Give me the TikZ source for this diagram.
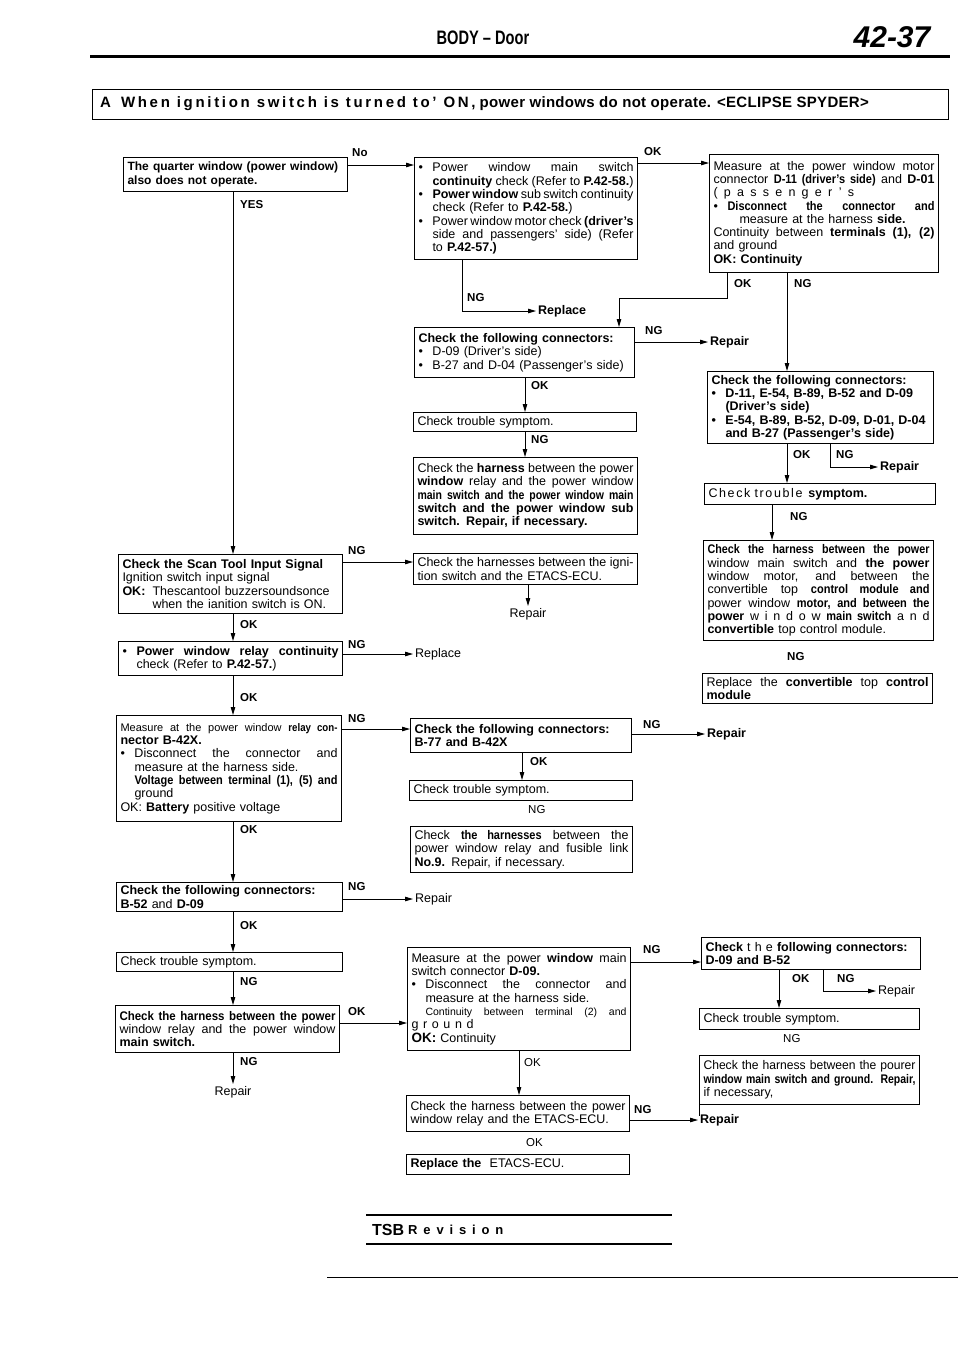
\documentclass[tikz,border=0pt]{standalone}
\usepackage{fontspec}
\setmainfont{Liberation Sans}
\usetikzlibrary{arrows.meta}
\newcommand\ffs{\fontsize{12.5}{13.3}\selectfont}
\newcommand\rsk{\spaceskip=0pt\xspaceskip=0pt\relax}
\newcommand\cbf{\bfseries\addfontfeatures{FakeStretch=0.88}}
\newcommand\JJ[1]{\makebox[\hsize][s]{\rsk #1}}
\newcommand\BB[1]{\makebox[14pt][l]{•}\makebox[\dimexpr\hsize-14pt\relax][s]{\rsk #1}}
\newcommand\BL[1]{\makebox[14pt][l]{•}#1}
\newcommand\CC[1]{\hspace*{14pt}\makebox[\dimexpr\hsize-14pt\relax][s]{\rsk #1}}
\newcommand\CL[1]{\hspace*{14pt}#1}
\newcommand\mkbox[6]{%
  \pgfmathsetlengthmacro\mbw{(#4)-(#2)}%
  \pgfmathsetlengthmacro\mbh{(#5)-(#3)}%
  \pgfmathsetlengthmacro\mbt{(#4)-(#2)-8}%
  \node[box,minimum width=\mbw,minimum height=\mbh,text width=\mbt] (#1) at (#2,#3) {#6};}
\begin{document}
\begin{tikzpicture}[x=1pt,y=-1pt,
  box/.style={draw,line width=1pt,anchor=north west,inner xsep=4pt,inner ysep=1pt,align=left,font=\ffs},
  lab/.style={font=\fontsize{11.5}{13}\selectfont\bfseries,inner sep=0pt,anchor=west},
  pl/.style={font=\fontsize{11.5}{13}\selectfont,inner sep=0pt,anchor=west},
  rb/.style={font=\ffs\bfseries,inner sep=2pt,anchor=west},
  rp/.style={font=\ffs,inner sep=2pt,anchor=west},
  arr/.style={-{Triangle[length=8pt,width=4.5pt]},line width=0.9pt},
  ln/.style={line width=0.9pt}]
\useasboundingbox (0,0) rectangle (960,1358);
\fill[white] (0,0) rectangle (960,1358);

% ---------- header ----------
\node[font=\fontsize{19.5}{22}\selectfont\bfseries\addfontfeatures{FakeStretch=0.75}] (head) at (483,38) {BODY – Door};
\node[font=\fontsize{30}{32}\selectfont\bfseries\itshape] (page) at (892,37) {42-37};
\draw[line width=3pt] (90,56) -- (950,56);
\node[draw,line width=1pt,anchor=north west,minimum width=856pt,minimum height=30pt,inner sep=0pt] (tbox) at (92,89) {};
\node[anchor=west,inner sep=0pt,font=\fontsize{15}{17}\selectfont\bfseries] (title) at (100,104)
  {A\hspace{10pt}{\addfontfeatures{LetterSpace=18}When ignition switch is turned to' ON,} {\addfontfeatures{LetterSpace=2}power windows do not operate. <ECLIPSE SPYDER>}};

% ---------- boxes ----------
\mkbox{Q}{123}{157}{347}{191}{\fontsize{12}{13.3}\selectfont\bfseries The quarter window (power window)\\ also does not operate.}

\mkbox{M1}{414}{157}{637}{259}{%
\BB{Power window main switch}\\
\CC{\textbf{continuity} check (Refer to \textbf{P.42-58.})}\\
\BB{\textbf{Power window} sub switch continuity}\\
\CL{check (Refer to \textbf{P.42-58.})}\\
\BB{Power window motor check \textbf{(driver's}}\\
\CC{side and passengers' side) (Refer}\\
\CL{to \textbf{P.42-57.)}}}

\mkbox{R1}{709}{154}{938}{272}{%
\JJ{Measure at the power window motor}\\
\JJ{connector {\cbf D-11 (driver's side)} and \textbf{D-01}}\\
{\addfontfeatures{LetterSpace=50}(passenger's}\\
\BB{{\cbf Disconnect the connector and}}\\
\CL{\hspace*{12pt}measure at the harness \textbf{side.}}\\
\JJ{Continuity between \textbf{terminals (1), (2)}}\\
and ground\\
\textbf{OK: Continuity}}

\mkbox{M2}{414}{327}{634}{377}{%
\textbf{Check the following connectors:}\\
\BL{D-09 (Driver's side)}\\
\BL{B-27 and D-04 (Passenger's side)}}

\mkbox{R2}{707}{371}{933}{443}{\bfseries
Check the following connectors:\\
\BL{D-11, E-54, B-89, B-52 and D-09}\\
\CL{(Driver's side)}\\
\BL{E-54, B-89, B-52, D-09, D-01, D-04}\\
\CL{and B-27 (Passenger's side)}}

\mkbox{M3}{413}{412}{636}{431}{Check trouble symptom.}

\mkbox{M4}{413}{457}{637}{534}{%
\JJ{Check the \textbf{harness} between the power}\\
\JJ{\textbf{window} relay and the power window}\\
\JJ{\bfseries\addfontfeatures{FakeStretch=0.84}main switch and the power window main}\\
\JJ{\textbf{switch and the power window sub}}\\
\textbf{switch. Repair, if necessary.}}

\mkbox{R3}{704}{483}{935}{504}{{\addfontfeatures{LetterSpace=13}Check trouble} \textbf{symptom.}}

\mkbox{R4}{703}{540}{933}{640}{%
\JJ{\bfseries\addfontfeatures{FakeStretch=0.86}Check the harness between the power}\\
\JJ{window main switch and \textbf{the power}}\\
\JJ{window motor, and between the}\\
\JJ{convertible top {\cbf control module and}}\\
\JJ{power window {\cbf motor, and between the}}\\
\JJ{\textbf{power} w i n d o w {\cbf main switch} a n d}\\
\textbf{convertible} top control module.}

\mkbox{S}{118}{554}{342}{613}{%
\textbf{Check the Scan Tool Input Signal}\\
Ignition switch input signal\\
\makebox[30pt][l]{\textbf{OK:}}Thescantool buzzersoundsonce\\
\hspace*{30pt}when the ianition switch is ON.}

\mkbox{M5}{413}{553}{637}{584}{%
\JJ{Check the harnesses between the igni-}\\
tion switch and the ETACS-ECU.}

\mkbox{Rel}{118}{641}{342}{675}{%
\BB{\textbf{Power window relay continuity}}\\
\CL{check (Refer to \textbf{P.42-57.})}}

\mkbox{R5}{702}{673}{932}{703}{%
\JJ{Replace the \textbf{convertible} top \textbf{control}}\\
\textbf{module}}

\mkbox{L3}{116}{715}{341}{821}{%
\JJ{\fontsize{11}{13.3}\selectfont Measure at the power window {\cbf relay con-}}\\
\textbf{nector B-42X.}\\
\BB{Disconnect the connector and}\\
\CL{measure at the harness side.}\\
\CC{{\cbf Voltage between terminal (1), (5) and}}\\
\CL{ground}\\
OK: \textbf{Battery} positive voltage}

\mkbox{M6}{410}{718}{631}{752}{%
\textbf{Check the following connectors:}\\
\textbf{B-77 and B-42X}}

\mkbox{M7}{409}{780}{632}{800}{Check trouble symptom.}

\mkbox{M8}{410}{826}{632}{872}{%
\JJ{Check {\cbf the harnesses} between the}\\
\JJ{power window relay and fusible link}\\
\textbf{No.9.} Repair, if necessary.}

\mkbox{L4}{116}{882}{342}{911}{%
\textbf{Check the following connectors:}\\
\textbf{B-52} and \textbf{D-09}}

\mkbox{L5}{116}{952}{342}{971}{Check trouble symptom.}

\mkbox{L6}{115}{1005}{339}{1052}{%
\JJ{\bfseries\addfontfeatures{FakeStretch=0.92}Check the harness between the power}\\
\JJ{window relay and the power window}\\
\textbf{main switch.}}

\mkbox{M9}{407}{947}{630}{1050}{%
\JJ{Measure at the power \textbf{window} main}\\
switch connector \textbf{D-09.}\\
\BB{Disconnect the connector and}\\
\CL{measure at the harness side.}\\
\CC{\fontsize{10.5}{13.3}\selectfont Continuity between terminal (2) and}\\
{\addfontfeatures{LetterSpace=37}ground}\\
{\fontsize{13.5}{13.3}\selectfont\bfseries OK:} Continuity}

\mkbox{R6}{701}{937}{920}{969}{%
\textbf{Check} t h e \textbf{following connectors:}\\
\textbf{D-09 and B-52}}

\mkbox{R7}{699}{1008}{919}{1029}{Check trouble symptom.}

\mkbox{R8}{699}{1055}{919}{1104}{%
\JJ{\addfontfeatures{FakeStretch=0.97}Check the harness between the pourer}\\
\JJ{\bfseries\addfontfeatures{FakeStretch=0.84}window main switch and ground. Repair,}\\
if necessary,}

\mkbox{M10}{406}{1095}{629}{1131}{%
\JJ{\addfontfeatures{FakeStretch=0.98}Check the harness between the power}\\
window relay and the ETACS-ECU.}

\mkbox{M11}{406}{1154}{629}{1174}{\textbf{Replace the}\ \ ETACS-ECU.}

% ---------- end texts ----------
\node[rb] (rep1) at (536,311) {Replace};
\node[rb] (rep2) at (708,342) {Repair};
\node[rb] (rep3) at (878,467) {Repair};
\node[rp,anchor=north] (rep4) at (528,606) {Repair};
\node[rp] (rep5) at (413,654) {Replace};
\node[rb] (rep6) at (705,734) {Repair};
\node[rp] (rep7) at (413,899) {Repair};
\node[rp,anchor=north] (rep8) at (233,1084) {Repair};
\node[rb] (rep9) at (698,1120) {Repair};
\node[rp] (rep10) at (876,991) {Repair};

% ---------- labels ----------
\node[lab] (t1) at (352,153) {No};
\node[lab] (t2) at (240,205) {YES};
\node[lab] (t3) at (644,152) {OK};
\node[lab] (t4) at (467,298) {NG};
\node[lab] (t5) at (734,284) {OK};
\node[lab] (t6) at (794,284) {NG};
\node[lab] (t7) at (645,331) {NG};
\node[lab] (t8) at (531,386) {OK};
\node[lab] (t9) at (531,440) {NG};
\node[lab] (t10) at (793,455) {OK};
\node[lab] (t11) at (836,455) {NG};
\node[lab] (t12) at (790,517) {NG};
\node[lab] (t13) at (348,551) {NG};
\node[lab] (t14) at (240,625) {OK};
\node[lab] (t15) at (348,645) {NG};
\node[lab] (t16) at (787,657) {NG};
\node[lab] (t17) at (240,698) {OK};
\node[lab] (t18) at (348,719) {NG};
\node[lab] (t19) at (643,725) {NG};
\node[lab] (t20) at (530,762) {OK};
\node[pl] (t21) at (528,810) {NG};
\node[lab] (t22) at (240,830) {OK};
\node[lab] (t23) at (348,887) {NG};
\node[lab] (t24) at (240,926) {OK};
\node[lab] (t25) at (240,982) {NG};
\node[lab] (t26) at (348,1012) {OK};
\node[lab] (t27) at (240,1062) {NG};
\node[lab] (t28) at (643,950) {NG};
\node[pl] (t29) at (524,1063) {OK};
\node[lab] (t30) at (634,1110) {NG};
\node[pl] (t31) at (526,1143) {OK};
\node[lab] (t32) at (792,979) {OK};
\node[lab] (t33) at (837,979) {NG};
\node[pl] (t34) at (783,1039) {NG};

% ---------- connectors ----------
\draw[arr] (Q.east |- 0,165) -- (M1.west |- 0,165);
\draw[arr] (Q.south -| 233,0) -- (S.north -| 233,0);
\draw[arr] (M1.east |- 0,163) -- (R1.west |- 0,163);
\draw[arr] (M1.south -| 462,0) |- (rep1.west);
\draw[arr] (R1.south -| 727,0) |- (619,298) -- (M2.north -| 619,0);
\draw[arr] (R1.south -| 787,0) -- (R2.north -| 787,0);
\draw[arr] (M2.east |- 0,342) -- (rep2.west);
\draw[arr] (M2.south -| 525,0) -- (M3.north -| 525,0);
\draw[arr] (M3.south -| 525,0) -- (M4.north -| 525,0);
\draw[arr] (R2.south -| 787,0) -- (R3.north -| 787,0);
\draw[arr] (R2.south -| 830,0) |- (rep3.west);
\draw[arr] (R3.south -| 772,0) -- (R4.north -| 772,0);
\draw[arr] (S.east |- 0,562) -- (M5.west |- 0,562);
\draw[arr] (M5.south -| 528,0) -- (rep4.north);
\draw[arr] (S.south -| 233,0) -- (Rel.north -| 233,0);
\draw[arr] (Rel.east |- 0,654) -- (rep5.west);
\draw[arr] (Rel.south -| 233,0) -- (L3.north -| 233,0);
\draw[arr] (L3.east |- 0,729) -- (M6.west |- 0,729);
\draw[arr] (M6.east |- 0,734) -- (rep6.west);
\draw[arr] (M6.south -| 522,0) -- (M7.north -| 522,0);
\draw[arr] (L3.south -| 233,0) -- (L4.north -| 233,0);
\draw[arr] (L4.east |- 0,899) -- (rep7.west);
\draw[arr] (L4.south -| 233,0) -- (L5.north -| 233,0);
\draw[arr] (L5.south -| 233,0) -- (L6.north -| 233,0);
\draw[arr] (L6.east |- 0,1023) -- (M9.west |- 0,1023);
\draw[arr] (L6.south -| 233,0) -- (rep8.north);
\draw[arr] (M9.east |- 0,962) -- (R6.west |- 0,962);
\draw[arr] (M9.south -| 519,0) -- (M10.north -| 519,0);
\draw[arr] (M10.east |- 0,1120) -- (rep9.west);
\draw[ln] (R8.south west) -- (R8.south west |- 0,1116);
\draw[arr] (R6.south -| 779,0) -- (R7.north -| 779,0);
\draw[arr] (R6.south -| 823,0) |- (rep10.west);

% ---------- footer ----------
\draw[line width=1.2pt] (366,1215) -- (672,1215);
\draw[line width=1.2pt] (366,1244) -- (672,1244);
\node[anchor=west,inner sep=0pt,font=\fontsize{16}{18}\selectfont\bfseries] (tsb) at (372,1230) {TSB};
\node[anchor=west,inner sep=0pt,font=\fontsize{13}{15}\selectfont\bfseries\addfontfeatures{LetterSpace=45}] (rev) at (408,1230) {Revision};
\draw[line width=1pt] (327,1277) -- (958,1277);
\end{tikzpicture}
\end{document}
